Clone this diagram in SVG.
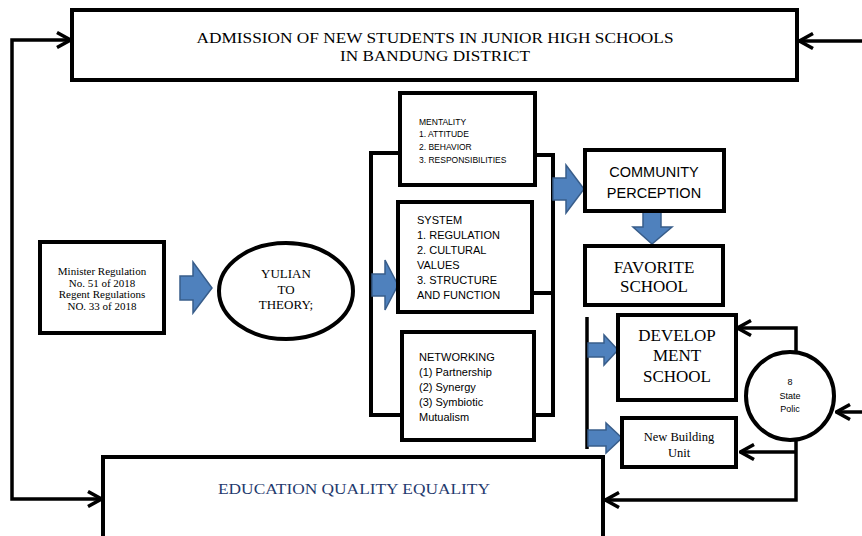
<svg xmlns="http://www.w3.org/2000/svg" width="862" height="536" viewBox="0 0 862 536">
<style>
.box{fill:#fff;stroke:#000;stroke-width:4}
.line{fill:none;stroke:#000;stroke-width:3.5}
.bracket{fill:none;stroke:#000;stroke-width:4}
.blk{fill:#4f81bd;stroke:#385d8a;stroke-width:1.5;stroke-linejoin:miter}
.serif{font-family:"Liberation Serif","Times New Roman",serif;fill:#000}
.sans{font-family:"Liberation Sans",Arial,sans-serif;fill:#000}
.c{text-anchor:middle}
</style>
<defs>
<marker id="chev" viewBox="0 0 16 18" refX="15" refY="9" markerWidth="16" markerHeight="18" markerUnits="userSpaceOnUse" orient="auto-start-reverse">
<path d="M1,1.5 L14.5,9 L1,16.5" fill="none" stroke="#000" stroke-width="3.5"/>
</marker>
</defs>

<g id="connectors">
<path class="line" d="M71,40 H12 V499 H102" marker-start="url(#chev)" marker-end="url(#chev)"/>
<path class="line" d="M862,41 H799" marker-end="url(#chev)"/>
<path class="bracket" d="M400,153 H371 V415 H402"/>
<path class="bracket" d="M535,155 H553 V415 H534"/>
<path class="bracket" d="M532,293 H553"/>
<path class="line" d="M587,317 V449"/>
<path class="line" d="M796,356 V328 H737" marker-end="url(#chev)"/>
<path class="line" d="M796,437 V500 H605" marker-end="url(#chev)"/>
<path class="line" d="M796,452 H740" marker-end="url(#chev)"/>
<path class="line" d="M862,412 H836" marker-end="url(#chev)"/>
<path class="blk" d="M180,276 H193 V262 L212,288 L193,313 V300 H180 Z"/>
<path class="blk" d="M372,274 H385 V260 L398,285 L385,310 V296 H372 Z"/>
<path class="blk" d="M553,178 H566 V165 L584,189 L566,213 V200 H553 Z"/>
<path class="blk" d="M643,211 H661 V227 H672 L652,244 L633,227 H643 Z"/>
<path class="blk" d="M588,343 H604 V335 L618,350 L604,365 V357 H588 Z"/>
<path class="blk" d="M588,430 H606 V423 L622,438 L606,453 V446 H588 Z"/>
</g>

<g id="admission">
<rect class="box" x="72" y="10" width="725" height="70"/>
<text class="serif c" x="435" y="43" font-size="15.5" textLength="477" lengthAdjust="spacingAndGlyphs">ADMISSION OF NEW STUDENTS IN JUNIOR HIGH SCHOOLS</text>
<text class="serif c" x="435" y="61" font-size="15.5" textLength="190" lengthAdjust="spacingAndGlyphs">IN BANDUNG DISTRICT</text>
</g>

<g id="regulation">
<rect class="box" x="40" y="242" width="124" height="91"/>
<text class="serif c" x="102" y="275" font-size="11">Minister Regulation</text>
<text class="serif c" x="102" y="287" font-size="11">No. 51 of 2018</text>
<text class="serif c" x="102" y="298" font-size="11">Regent Regulations</text>
<text class="serif c" x="102" y="310" font-size="11">NO. 33 of 2018</text>
</g>

<g id="theory">
<ellipse cx="286" cy="291" rx="67" ry="48" fill="#fff" stroke="#000" stroke-width="4"/>
<text class="serif c" x="286" y="278" font-size="13">YULIAN</text>
<text class="serif c" x="286" y="294" font-size="13">TO</text>
<text class="serif c" x="286" y="309" font-size="13">THEORY;</text>
</g>

<g id="mentality">
<rect class="box" x="400" y="93" width="135" height="92"/>
<text class="sans" x="419" y="125" font-size="8.5">MENTALITY</text>
<text class="sans" x="419" y="137" font-size="8.5">1. ATTITUDE</text>
<text class="sans" x="419" y="150" font-size="8.5">2. BEHAVIOR</text>
<text class="sans" x="419" y="163" font-size="8.5">3. RESPONSIBILITIES</text>
</g>

<g id="system">
<rect class="box" x="398" y="202" width="134" height="110"/>
<text class="sans" x="417" y="224" font-size="11">SYSTEM</text>
<text class="sans" x="417" y="239" font-size="11">1. REGULATION</text>
<text class="sans" x="417" y="254" font-size="11">2. CULTURAL</text>
<text class="sans" x="417" y="269" font-size="11">VALUES</text>
<text class="sans" x="417" y="284" font-size="11">3. STRUCTURE</text>
<text class="sans" x="417" y="299" font-size="11">AND FUNCTION</text>
</g>

<g id="networking">
<rect class="box" x="402" y="332" width="132" height="108"/>
<text class="sans" x="419" y="361" font-size="11">NETWORKING</text>
<text class="sans" x="419" y="376" font-size="11">(1) Partnership</text>
<text class="sans" x="419" y="391" font-size="11">(2) Synergy</text>
<text class="sans" x="419" y="406" font-size="11">(3) Symbiotic</text>
<text class="sans" x="419" y="421" font-size="11">Mutualism</text>
</g>

<g id="community">
<rect class="box" x="585" y="150" width="139" height="61"/>
<text class="sans c" x="654" y="177" font-size="14.5">COMMUNITY</text>
<text class="sans c" x="654" y="198" font-size="14.5">PERCEPTION</text>
</g>

<g id="favorite">
<rect class="box" x="585" y="246" width="138" height="59"/>
<text class="serif c" x="654" y="273" font-size="17">FAVORITE</text>
<text class="serif c" x="654" y="292" font-size="17">SCHOOL</text>
</g>

<g id="develop">
<rect class="box" x="618" y="315" width="118" height="85"/>
<text class="serif c" x="677" y="341" font-size="17">DEVELOP</text>
<text class="serif c" x="677" y="361" font-size="17">MENT</text>
<text class="serif c" x="677" y="382" font-size="17">SCHOOL</text>
</g>

<g id="newbuilding">
<rect class="box" x="622" y="418" width="114" height="49"/>
<text class="serif c" x="679" y="441" font-size="12.5">New Building</text>
<text class="serif c" x="679" y="457" font-size="12.5">Unit</text>
</g>

<g id="statepolicy">
<circle cx="790" cy="396" r="44" fill="#fff" stroke="#000" stroke-width="4"/>
<text class="sans c" x="790" y="385" font-size="9">8</text>
<text class="sans c" x="790" y="399" font-size="9">State</text>
<text class="sans c" x="790" y="412" font-size="9">Polic</text>
</g>

<g id="education">
<rect class="box" x="103" y="457" width="500" height="85"/>
<text class="serif c" x="354" y="494" font-size="15.5" textLength="272" lengthAdjust="spacingAndGlyphs" fill="#1f3a6e" style="fill:#1f3a6e">EDUCATION QUALITY EQUALITY</text>
</g>
</svg>
